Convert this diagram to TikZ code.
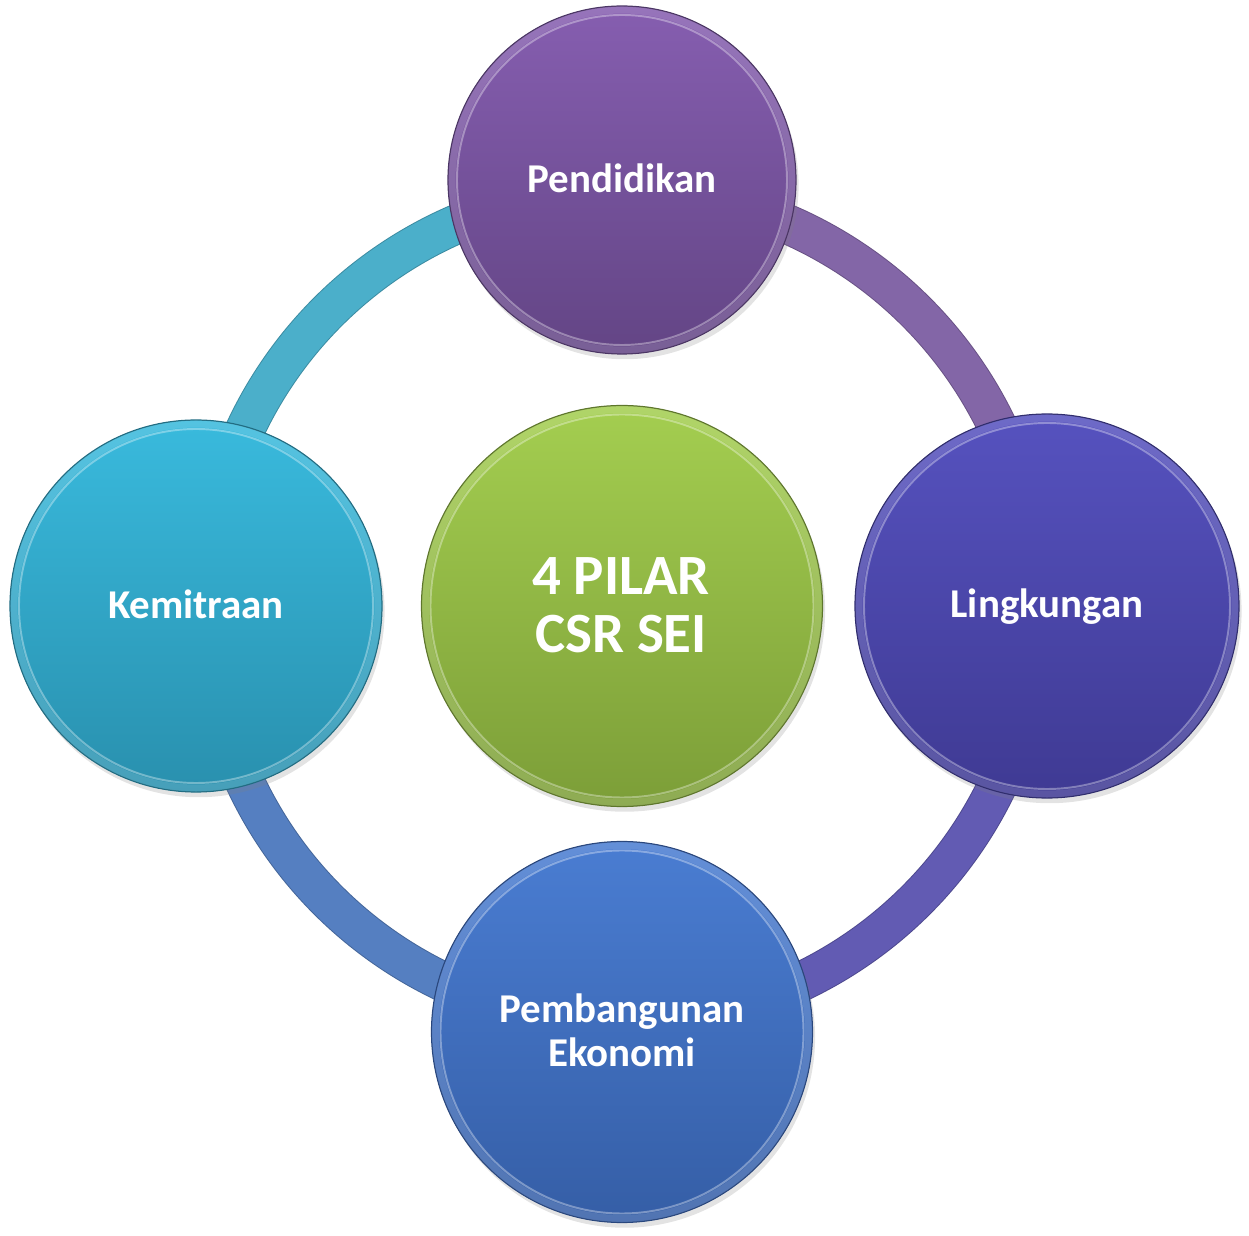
\documentclass[tikz,border=0pt]{standalone}
\usepackage{fontspec}
\setmainfont{Carlito}
\usetikzlibrary{shadows}
\definecolor{pedT}{HTML}{865EB0}
\definecolor{pedB}{HTML}{634585}
\definecolor{linT}{HTML}{5652BF}
\definecolor{linB}{HTML}{3F3A93}
\definecolor{kemT}{HTML}{39BADD}
\definecolor{kemB}{HTML}{2990AE}
\definecolor{pemT}{HTML}{4A7DD2}
\definecolor{pemB}{HTML}{355EA6}
\definecolor{cenT}{HTML}{A4CE50}
\definecolor{cenB}{HTML}{7C9E38}
\definecolor{ringTL}{HTML}{4BAFCA}
\definecolor{ringTR}{HTML}{8366A7}
\definecolor{ringBR}{HTML}{625BB3}
\definecolor{ringBL}{HTML}{557FC1}
\tikzset{
  ringseg/.style={line width=0.76cm, draw=#1},
  ringedge/.style={line width=0.80cm, draw=#1!80!black},
  ball/.style n args={3}{circle, inner sep=0pt, minimum size=#1,
     shade, top color=#2, bottom color=#3, draw=#3!75!black, line width=0.7pt,
     drop shadow={opacity=0.22, shadow xshift=1.5pt, shadow yshift=-3pt}},
  rimA/.style={draw=white, opacity=0.14, line width=4pt},
  rimB/.style={draw=white, opacity=0.35, line width=1.1pt},
  lbl/.style={text=white, font=\fontsize{23.3}{28}\selectfont\bfseries, anchor=base, inner sep=0pt},
  biglbl/.style={text=white, font=\fontsize{32.4}{38}\selectfont\bfseries, anchor=base, inner sep=0pt}
}
\begin{document}
\begin{tikzpicture}[x=0.02cm,y=-0.02cm]
\useasboundingbox (0,0) rectangle (1249,1236);
\coordinate (O) at (622,606);
% ring (y axis points down: 90 = down on page)
\foreach \a/\b/\c in {180/270/ringTL, 270/360/ringTR, 0/90/ringBR, 90/180/ringBL}{
  \draw[ringedge=\c] ([shift={(\a:416)}]O) arc[start angle=\a, end angle=\b, radius=416];
  \draw[ringseg=\c] ([shift={(\a:416)}]O) arc[start angle=\a, end angle=\b, radius=416];
}
% circles
\node[ball={6.96cm}{pedT}{pedB}] (ped) at (622,180) {};
\node[ball={7.68cm}{linT}{linB}] (lin) at (1047,606) {};
\node[ball={7.62cm}{pemT}{pemB}] (pem) at (622,1032) {};
\node[ball={7.44cm}{kemT}{kemB}] (kem) at (196,606) {};
\node[ball={8.02cm}{cenT}{cenB}] (cen) at (622,606) {};
% rims
\foreach \n/\r in {ped/174, lin/192, pem/190.5, kem/186, cen/200.5}{
  \draw[rimA] (\n.center) circle[radius=\r-4];
  \draw[rimB] (\n.center) circle[radius=\r-9];
}
% labels
\node[lbl] (tped) at (622,193) {Pendidikan};
\node[lbl] (tlin) at (1047,618) {Lingkungan};
\node[lbl] (tkem) at (196,619) {Kemitraan};
\node[lbl] (tpem1) at (622,1023) {Pembangunan};
\node[lbl] (tpem2) at (622,1067) {Ekonomi};
\node[biglbl] (tcen1) at (621,595) {4 PILAR};
\node[biglbl] (tcen2) at (621,653) {CSR SEI};
\end{tikzpicture}
\end{document}
